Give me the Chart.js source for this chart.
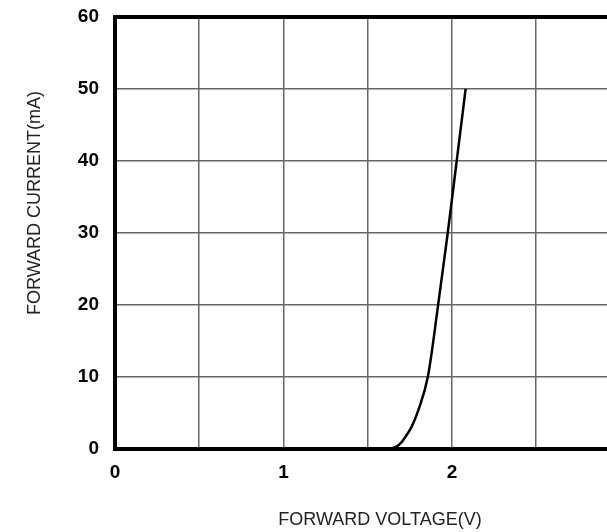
<!DOCTYPE html>
<html>
<head>
<meta charset="utf-8">
<script src="https://cdn.jsdelivr.net/npm/chart.js@4.4.1/dist/chart.umd.min.js"></script>
<style>
	html, body { margin: 0; padding: 0; background: #fff; overflow: hidden; }
	#wrap { width: 607px; height: 532px; }
</style>
</head>
<body>
<div id="wrap"><canvas id="vf-chart"></canvas></div>
<script>
// Forward voltage (V) vs forward current (mA)
var voltage = [1.63, 1.66, 1.69, 1.72, 1.76, 1.80, 1.857, 1.918, 1.975, 2.028, 2.081];
var current = [0, 0.15, 0.6, 1.5, 3.0, 5.3, 10, 20, 30, 40, 50];

var x_title = "FORWARD VOLTAGE(V)";
var y_title = "FORWARD CURRENT(mA)";
var x_labels = [0, 1, 2];

var points = [];
for (var i = 0; i < voltage.length; i++) {
	points.push({ x: voltage[i], y: current[i] });
}

// Top frame line and the axis titles (titles sit off-centre in the original)
var frameAndTitles = {
	id: "frameAndTitles",
	afterDraw: function(chart) {
		var ctx = chart.ctx;
		var area = chart.chartArea;
		ctx.save();
		ctx.strokeStyle = "#000";
		ctx.lineWidth = 4;
		ctx.beginPath();
		ctx.moveTo(area.left - 2, area.top);
		ctx.lineTo(area.right, area.top);
		ctx.stroke();

		ctx.fillStyle = "#222";
		ctx.font = "18px 'Liberation Sans', Arial, sans-serif";
		ctx.textAlign = "center";
		ctx.textBaseline = "middle";
		ctx.fillText(x_title, 380, 520);
		ctx.translate(35, 203);
		ctx.rotate(-Math.PI / 2);
		ctx.fillText(y_title, 0, 0);
		ctx.restore();
	}
};

var tickFont = { family: "'Liberation Sans', Arial, sans-serif", size: 19, weight: "bold" };

var vf_chart = new Chart(document.getElementById("vf-chart"), {
	type: "line",
	data: {
		datasets: [{
			data: points,
			borderColor: "#000",
			borderWidth: 2.5,
			pointRadius: 0,
			fill: false,
			cubicInterpolationMode: "monotone"
		}]
	},
	options: {
		responsive: true,
		maintainAspectRatio: false,
		animation: false,
		layout: { padding: { top: 17, left: 0, right: 0, bottom: 0 } },
		plugins: { legend: { display: false }, tooltip: { enabled: false } },
		scales: {
			x: {
				type: "linear",
				min: 0,
				max: 2.92,
				afterBuildTicks: function(axis) {
					axis.ticks = axis.ticks.filter(function(t) {
						return Math.abs(t.value * 2 - Math.round(t.value * 2)) < 1e-6;
					});
				},
				afterFit: function(axis) { axis.height = 83.5; },
				ticks: {
					stepSize: 0.5,
					padding: 13,
					color: "#000",
					font: tickFont,
					maxRotation: 0,
					autoSkip: false,
					callback: function(value) {
						return x_labels.indexOf(value) !== -1 ? String(value) : "";
					}
				},
				grid: { color: "#666", lineWidth: 1.5, drawTicks: false },
				border: { display: true, color: "#000", width: 4 }
			},
			y: {
				min: 0,
				max: 60,
				afterFit: function(axis) { axis.width = 115; },
				ticks: {
					stepSize: 10,
					padding: 0,
					color: "#000",
					font: tickFont
				},
				grid: {
					color: "#666",
					lineWidth: 1.5,
					drawTicks: true,
					tickLength: 16,
					tickColor: "rgba(0,0,0,0)"
				},
				border: { display: true, color: "#000", width: 4 }
			}
		}
	},
	plugins: [frameAndTitles]
});
</script>
</body>
</html>
